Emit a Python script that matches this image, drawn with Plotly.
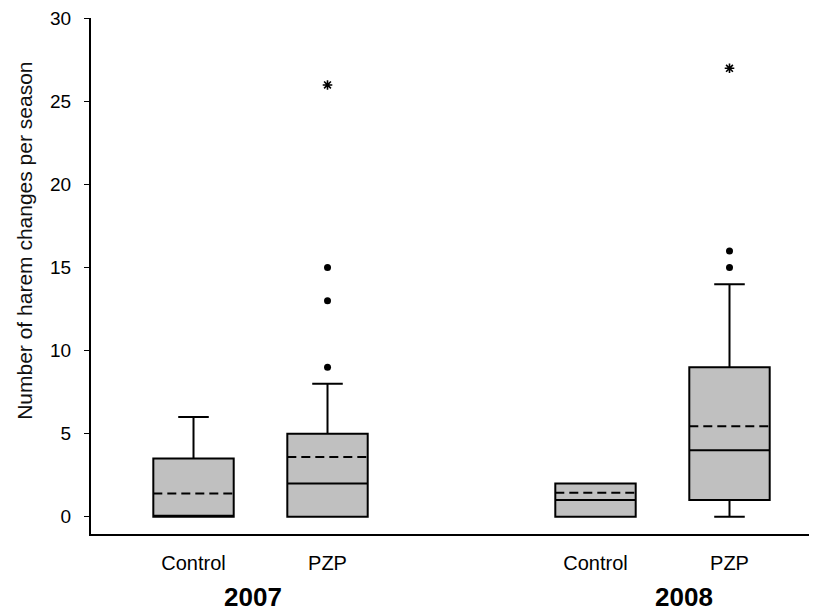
import plotly.graph_objects as go

# ---- data ----
group_labels = ["Control", "PZP", "Control", "PZP"]
positions = [0, 1, 3, 4]
q1 = [0, 0, 0, 1]
median = [0, 2, 1, 4]
q3 = [3.5, 5, 2, 9]
lowerfence = [0, 0, 0, 0]
upperfence = [6, 8, 2, 14]
means = [1.4, 3.6, 1.45, 5.45]

outlier_x = [1, 1, 1, 4, 4]
outlier_y = [9, 13, 15, 15, 16]
extreme_x = [1, 4]
extreme_y = [26, 27]

years = ["2007", "2008"]
year_pos = [0.444, 3.66]

y_ticks = [0, 5, 10, 15, 20, 25, 30]

BOX_W = 0.6
FONT = "Arial, Liberation Sans, sans-serif"

fig = go.Figure()
fig.add_trace(go.Box(
    x=positions, q1=q1, median=median, q3=q3,
    lowerfence=lowerfence, upperfence=upperfence,
    boxpoints=False, width=BOX_W, whiskerwidth=0.38,
    fillcolor="#c0c0c0", line=dict(color="black", width=2),
    showlegend=False, hoverinfo="skip",
))

# dashed mean lines across each box
mx, my = [], []
for p, m in zip(positions, means):
    mx += [p - BOX_W / 2, p + BOX_W / 2, None]
    my += [m, m, None]
fig.add_trace(go.Scatter(
    x=mx, y=my, mode="lines",
    line=dict(color="black", width=2, dash="9px,5px"),
    showlegend=False, hoverinfo="skip",
))

fig.add_trace(go.Scatter(
    x=outlier_x, y=outlier_y, mode="markers",
    marker=dict(color="black", size=7, symbol="circle"),
    showlegend=False,
))
fig.add_trace(go.Scatter(
    x=extreme_x, y=extreme_y, mode="markers",
    marker=dict(color="black", size=8, symbol="asterisk-open",
                line=dict(color="black", width=1.6)),
    showlegend=False,
))

for yr, xp in zip(years, year_pos):
    fig.add_annotation(x=xp, xref="x", y=-0.122, yref="paper", text="<b>%s</b>" % yr,
                       showarrow=False, font=dict(family=FONT, size=26, color="black"),
                       xanchor="center", yanchor="middle")

fig.add_annotation(x=-0.091, xref="paper", y=0.568, yref="paper",
                   text="Number of harem changes per season", textangle=-90,
                   showarrow=False, font=dict(family=FONT, size=21, color="#111"),
                   xanchor="center", yanchor="middle")

fig.update_layout(
    width=809, height=604,
    margin=dict(l=83, r=0, t=10, b=78),
    paper_bgcolor="white", plot_bgcolor="white",
    font=dict(family=FONT, color="black"),
)
fig.update_xaxes(
    range=[-0.765, 4.653], tickmode="array", tickvals=positions, ticktext=group_labels,
    ticks="", showgrid=False, zeroline=False, showline=True, linecolor="black", linewidth=2,
    tickfont=dict(family=FONT, size=20, color="black"), ticklabelstandoff=10,
)
fig.update_yaxes(
    range=[-1.04, 30.03], tickmode="array", tickvals=y_ticks,
    ticks="outside", ticklen=5, tickwidth=1, tickcolor="black",
    showgrid=False, zeroline=False, showline=True, linecolor="black", linewidth=2,
    tickfont=dict(family=FONT, size=19, color="black"), ticklabelstandoff=9,
)

fig.write_html("out.html")
